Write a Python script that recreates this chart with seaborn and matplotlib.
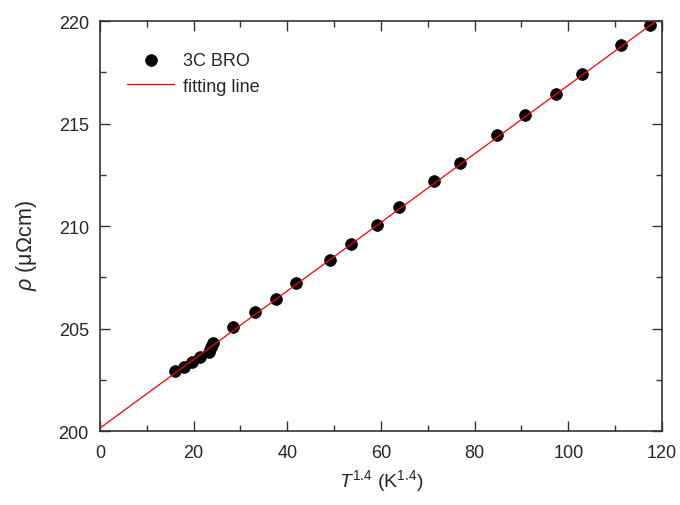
import numpy as np
import pandas as pd
import matplotlib
matplotlib.use("Agg")
import matplotlib.pyplot as plt
from matplotlib.ticker import MultipleLocator
import seaborn as sns

# Resistivity of 3C BRO versus T^1.4
t14 = [16.0, 17.9, 19.6, 21.4, 23.3, 23.7, 24.1, 28.4, 33.1, 37.6, 41.9,
       49.1, 53.6, 59.1, 63.8, 71.3, 76.9, 84.8, 90.8, 97.4, 102.9, 111.3, 117.4]
rho = [202.95, 203.15, 203.38, 203.62, 203.88, 204.08, 204.28, 205.08, 205.82,
       206.45, 207.22, 208.36, 209.14, 210.07, 210.95, 212.18, 213.08, 214.43,
       215.40, 216.43, 217.41, 218.83, 219.80]

# Linear fit rho = rho0 + A * T^1.4
fit_intercept = 200.15
fit_slope = 0.1672
fit_x = [0.0, 120.0]

sns.set_style("ticks")
plt.rcParams["font.family"] = ["Liberation Sans", "DejaVu Sans"]
plt.rcParams["mathtext.fontset"] = "custom"
plt.rcParams["mathtext.rm"] = "Liberation Sans"
plt.rcParams["mathtext.it"] = "Liberation Sans:italic"

fig = plt.figure(figsize=(6.8, 5.06), dpi=100)
ax = fig.add_axes([0.147, 0.146, 0.8265, 0.8105])

data = pd.DataFrame({"x": t14, "y": rho})
fit = pd.DataFrame({"x": fit_x,
                    "y": [fit_intercept + fit_slope * v for v in fit_x]})

sns.scatterplot(data=data, x="x", y="y", ax=ax, s=72, color="black",
                edgecolor="black", linewidth=0.5, label="3C BRO", zorder=2)
sns.lineplot(data=fit, x="x", y="y", ax=ax, color="red", linewidth=0.9,
             label="fitting line", zorder=3)

ax.set_xlim(0, 120)
ax.set_ylim(200, 220)
ax.xaxis.set_major_locator(MultipleLocator(20))
ax.xaxis.set_minor_locator(MultipleLocator(10))
ax.yaxis.set_major_locator(MultipleLocator(5))
ax.yaxis.set_minor_locator(MultipleLocator(2.5))

ax.tick_params(which="both", direction="in", top=True, right=True,
               color="#333333", labelsize=13)
ax.tick_params(axis="x", which="major", pad=9)
ax.tick_params(axis="y", which="major", pad=8)
ax.tick_params(which="major", length=7, width=1.0)
ax.tick_params(which="minor", length=4, width=1.0)
for sp in ax.spines.values():
    sp.set_color("#333333")
    sp.set_linewidth(1.2)

ax.set_xlabel(r"$T^{1.4}$ (K$^{1.4}$)", fontsize=14)
ax.set_ylabel(r"$\rho$ (μΩcm)", fontsize=15.5)
ax.xaxis.set_label_coords(0.5, -0.088)
ax.yaxis.set_label_coords(-0.108, 0.455)

leg = ax.legend(loc="upper left", bbox_to_anchor=(0.02, 0.965), frameon=False,
                fontsize=13, handlelength=2.6, handletextpad=0.5,
                labelspacing=0.5)

fig.savefig("out.png", dpi=100)
